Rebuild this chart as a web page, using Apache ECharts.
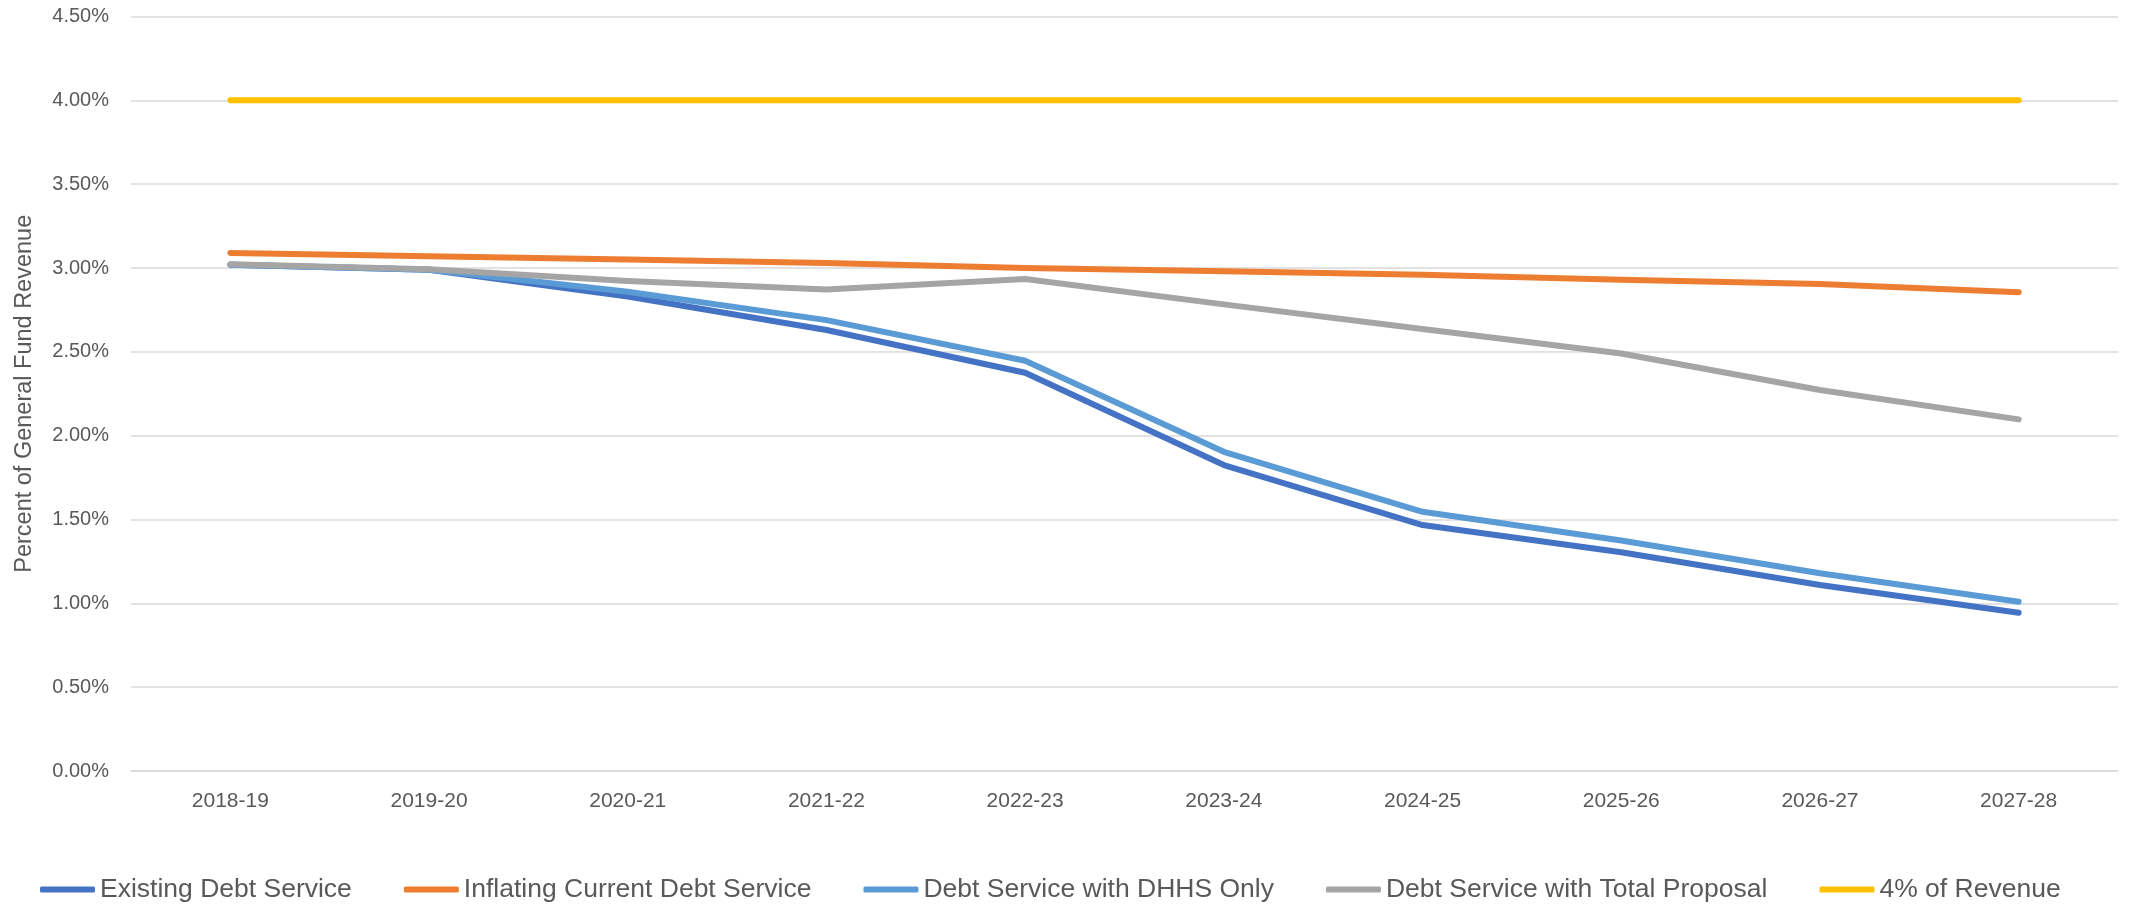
<!DOCTYPE html>
<html>
<head>
<meta charset="utf-8">
<script src="https://cdn.jsdelivr.net/npm/echarts@6/dist/echarts.min.js"></script>
<style>
  html, body { margin: 0; padding: 0; background: #fff; }
  #chart { width: 2136px; height: 905px; }
</style>
</head>
<body>
<div id="chart"></div>
<script>
  // fiscal years on the x axis
  const years = ['2018-19', '2019-20', '2020-21', '2021-22', '2022-23',
    '2023-24', '2024-25', '2025-26', '2026-27', '2027-28']

  // percent of general fund revenue
  const existingDebt = [3.02, 2.99, 2.83, 2.63, 2.375, 1.825, 1.467, 1.305, 1.109, 0.944]
  const inflatingDebt = [3.09, 3.07, 3.05, 3.03, 3.00, 2.98, 2.96, 2.93, 2.905, 2.856]
  const dhhsOnly = [3.02, 2.99, 2.858, 2.689, 2.447, 1.904, 1.546, 1.375, 1.179, 1.010]
  const totalProposal = [3.023, 2.992, 2.922, 2.872, 2.934, 2.783, 2.636, 2.49, 2.272, 2.097]
  const fourPercent = [4, 4, 4, 4, 4, 4, 4, 4, 4, 4]

  const seriesNames = ['Existing Debt Service', 'Inflating Current Debt Service',
    'Debt Service with DHHS Only', 'Debt Service with Total Proposal', '4% of Revenue']
  const colors = ['#4472C4', '#ED7D31', '#5B9BD5', '#A5A5A5', '#FFC000']

  const font = '"Liberation Sans", Arial, sans-serif'

  function lineSeries(name, data, color) {
    return {
      name: name,
      type: 'line',
      data: data,
      symbol: 'none',
      color: color,
      lineStyle: { width: 6, color: color, cap: 'round', join: 'round' },
      emphasis: { disabled: true }
    }
  }

  const chart = echarts.init(document.getElementById('chart'))
  chart.setOption({
    animation: false,
    backgroundColor: '#fff',
    grid: { left: 131, right: 18, top: 16.5, bottom: 134, outerBoundsMode: 'none' },
    legend: {
      left: 35,
      top: 871,
      icon: 'roundRect',
      itemWidth: 55,
      itemHeight: 6,
      itemGap: 52,
      textStyle: { color: '#595959', fontSize: 26.5, fontFamily: font },
      data: seriesNames
    },
    xAxis: {
      type: 'category',
      data: years,
      axisLine: { lineStyle: { color: '#D9D9D9', width: 1.5 } },
      axisTick: { show: false },
      axisLabel: { color: '#595959', fontSize: 21, fontFamily: font, margin: 20 }
    },
    yAxis: {
      type: 'value',
      min: 0,
      max: 4.5,
      interval: 0.5,
      name: 'Percent of General Fund Revenue',
      nameLocation: 'middle',
      nameGap: 94,
      nameTextStyle: { color: '#595959', fontSize: 23.5, fontFamily: font },
      axisLine: { show: false },
      axisTick: { show: false },
      splitLine: { lineStyle: { color: '#D9D9D9', width: 1.5 } },
      axisLabel: {
        color: '#595959',
        fontSize: 20,
        fontFamily: font,
        margin: 22,
        formatter: v => v.toFixed(2) + '%'
      }
    },
    series: [
      lineSeries(seriesNames[0], existingDebt, colors[0]),
      lineSeries(seriesNames[1], inflatingDebt, colors[1]),
      lineSeries(seriesNames[2], dhhsOnly, colors[2]),
      lineSeries(seriesNames[3], totalProposal, colors[3]),
      lineSeries(seriesNames[4], fourPercent, colors[4])
    ]
  })
</script>
</body>
</html>
